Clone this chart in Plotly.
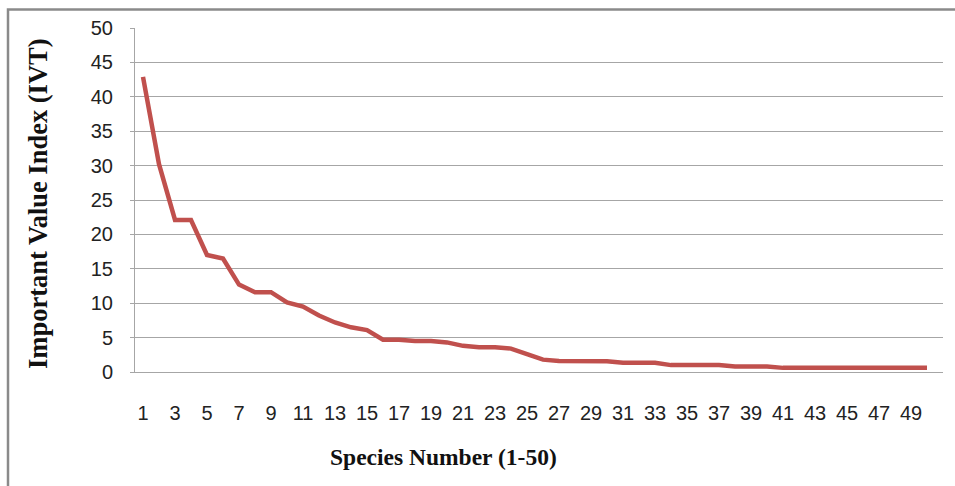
import plotly.graph_objects as go

species = list(range(1, 51))
ivi = [42.9, 30.2, 22.1, 22.1, 17.0, 16.5, 12.7, 11.6, 11.6, 10.1,
       9.5, 8.2, 7.2, 6.5, 6.1, 4.7, 4.7, 4.5, 4.5, 4.3,
       3.8, 3.6, 3.6, 3.4, 2.6, 1.8, 1.6, 1.6, 1.6, 1.55,
       1.35, 1.35, 1.35, 1.0, 1.0, 1.0, 1.0, 0.8, 0.8, 0.8,
       0.6, 0.6, 0.6, 0.6, 0.6, 0.6, 0.6, 0.6, 0.6, 0.6]
x_ticks = list(range(1, 50, 2))
y_ticks = list(range(0, 51, 5))

W, H = 955, 486
L, R, T, B = 135, 12, 28, 114
pw, ph = W - L - R, H - T - B

def px2x(px):
    return (px - L) / pw

def py2y(py):
    return (H - B - py) / ph

fig = go.Figure()
fig.add_trace(go.Scatter(
    x=species, y=ivi, mode="lines",
    line=dict(color="#C0504D", width=4.5),
    hoverinfo="x+y", showlegend=False,
))

grid = "#A6A6A6"
tickfont = dict(family="Liberation Sans, Arial, sans-serif", size=20, color="#222222")

fig.update_layout(
    width=W, height=H,
    margin=dict(l=L, r=R, t=T, b=B, pad=0),
    paper_bgcolor="white", plot_bgcolor="white",
    xaxis=dict(
        range=[0.5, 0.5 + pw / 16.0],
        tickmode="array", tickvals=x_ticks, ticktext=[str(v) for v in x_ticks],
        showgrid=False, zeroline=False,
        showline=True, linecolor=grid, linewidth=1,
        ticks="", tickfont=tickfont, ticklabelstandoff=23,
    ),
    yaxis=dict(
        range=[0, 50],
        tickmode="array", tickvals=y_ticks,
        showgrid=True, gridcolor=grid, gridwidth=1,
        zeroline=False,
        showline=True, linecolor=grid, linewidth=1, mirror=False,
        ticks="outside", ticklen=4, tickcolor=grid,
        tickfont=tickfont, ticklabelstandoff=13,
    ),
    shapes=[dict(
        type="rect", xref="paper", yref="paper",
        x0=px2x(8), x1=px2x(980), y0=py2y(520), y1=py2y(9.5),
        line=dict(color="#8A8A8A", width=2.5), fillcolor="rgba(0,0,0,0)",
        layer="below",
    )],
    annotations=[
        dict(text="<b>Important Value Index (IVT)</b>", textangle=-90,
             xref="paper", yref="paper", x=px2x(38), y=py2y(204),
             xanchor="center", yanchor="middle", showarrow=False,
             font=dict(family="Liberation Serif, Times New Roman, serif", size=26.5, color="#111111")),
        dict(text="<b>Species Number (1-50)</b>",
             xref="paper", yref="paper", x=px2x(443), y=py2y(457),
             xanchor="center", yanchor="middle", showarrow=False,
             font=dict(family="Liberation Serif, Times New Roman, serif", size=23.5, color="#111111")),
    ],
)

fig.write_html("out.html")
